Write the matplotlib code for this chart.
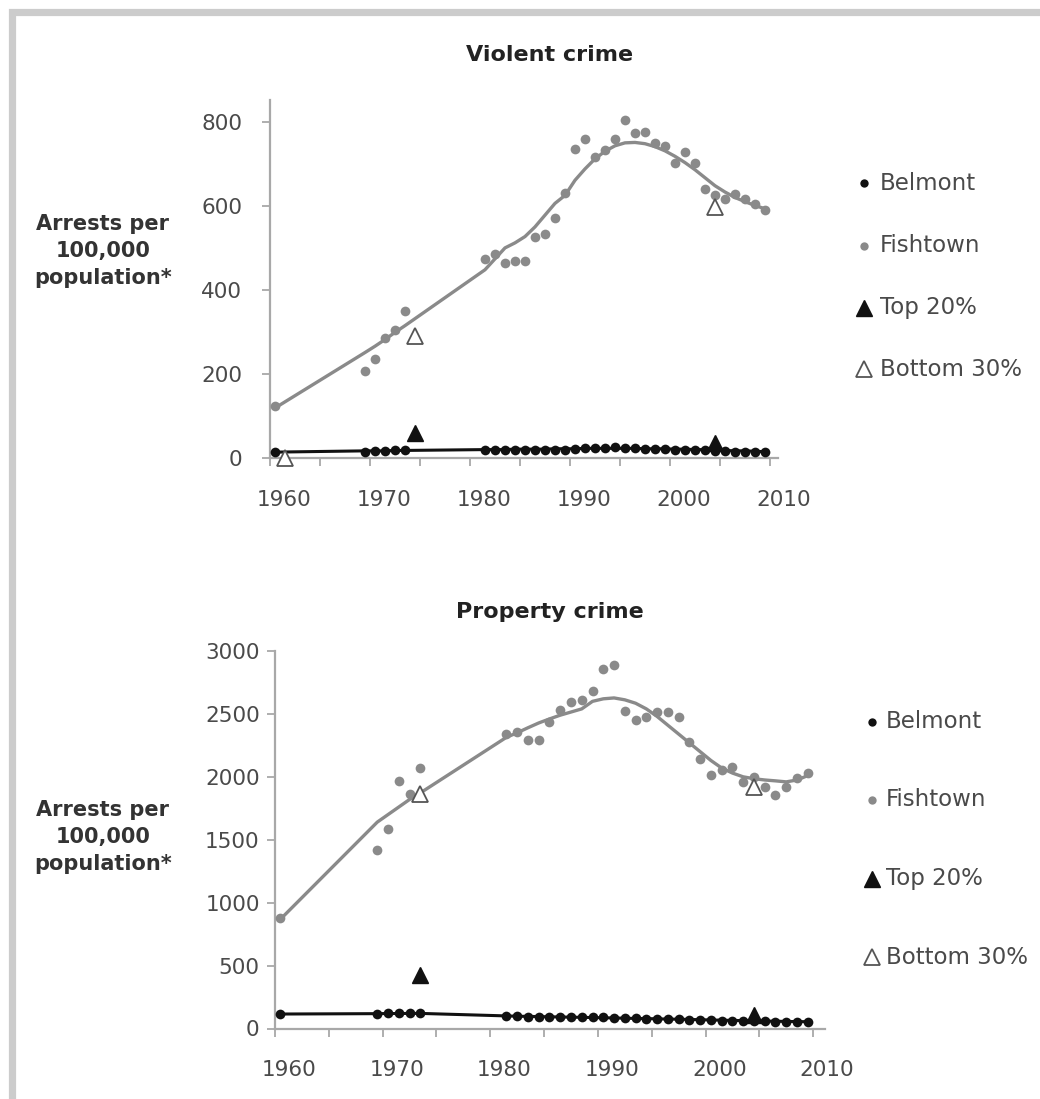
import matplotlib
matplotlib.use("Agg")
import matplotlib.pyplot as plt
import matplotlib.transforms as mtransforms
from matplotlib.lines import Line2D
from matplotlib.patches import Rectangle
import numpy as np

# ---- data ----
years = [1960, 1969, 1970, 1971, 1972, 1973] + list(range(1981, 2010))

fishtown_violent = [124, 208, 235, 286, 305, 349,
                    473, 486, 463, 470, 470, 527, 533, 571, 630, 735,
                    759, 716, 733, 759, 805, 773, 775, 749, 743, 703,
                    728, 702, 640, 626, 616, 628, 616, 604, 590]
fishtown_violent_fit = [119, 251, 266, 282, 299, 315,
                        448, 474, 500, 512, 527, 550, 578, 606, 625, 661,
                        688, 712, 730, 743, 750, 751, 748, 741, 731, 718,
                        703, 686, 667, 648, 633, 620, 610, 601, 593]
belmont_violent = [15, 15, 16, 17, 18, 19,
                   20, 20, 18, 18, 18, 19, 18, 19, 20, 22,
                   24, 24, 24, 25, 24, 23, 22, 22, 21, 20,
                   19, 18, 18, 17, 16, 15, 15, 14, 14]
belmont_violent_fit = [14, 17, 17, 17, 18, 18,
                       20, 20, 20, 21, 21, 21, 21, 22, 22, 22,
                       23, 23, 23, 23, 23, 23, 22, 22, 22, 21,
                       21, 20, 20, 19, 18, 17, 17, 16, 15]

fishtown_property = [881, 1421, 1582, 1963, 1865, 2071,
                     2338, 2358, 2296, 2296, 2433, 2532, 2592, 2613, 2680, 2857,
                     2891, 2521, 2452, 2479, 2513, 2513, 2479, 2275, 2143, 2018,
                     2055, 2076, 1957, 2002, 1917, 1852, 1917, 1992, 2029]
fishtown_property_fit = [868, 1640, 1700, 1760, 1820, 1872,
                         2314, 2350, 2390, 2428, 2460, 2490, 2515, 2540, 2600, 2620,
                         2627, 2612, 2585, 2540, 2480, 2410, 2340, 2270, 2200, 2130,
                         2070, 2030, 2000, 1985, 1975, 1968, 1960, 1975, 2010]
belmont_property = [113, 118, 122, 124, 124, 124,
                    98, 97, 93, 92, 92, 90, 90, 88, 90, 88,
                    85, 82, 80, 78, 78, 74, 72, 70, 66, 64,
                    62, 60, 60, 62, 58, 55, 55, 54, 53]
belmont_property_fit = [115, 118, 119, 119, 120, 120,
                        100, 98, 96, 95, 93, 92, 90, 89, 87, 85,
                        84, 82, 80, 79, 77, 75, 74, 72, 70, 68,
                        66, 64, 63, 61, 59, 58, 56, 55, 54]

# Top 20% / Bottom 30% survey points
violent_top20_years = [1974, 2004]
violent_top20 = [60, 35]
violent_bottom30_years = [1961, 1974, 2004]
violent_bottom30 = [0, 290, 598]

property_top20_years = [1973, 2004]
property_top20 = [423, 110]
property_bottom30_years = [1973, 2004]
property_bottom30 = [1860, 1917]

legend_labels = ["Belmont", "Fishtown", "Top 20%", "Bottom 30%"]

FISH = "#8a8a8a"
BEL = "#111111"
AXC = "#a8a8a8"
TXT = "#4a4a4a"
MID = 0.5  # data plotted at mid-year

fig = plt.figure(figsize=(10.40, 10.99), dpi=100)
W, H = 1040, 1099

# light gray frame
fig.add_artist(Rectangle((11.5 / W, -0.2), 1.5, 1 - 11.5 / H + 0.2,
                         transform=fig.transFigure, fill=False,
                         edgecolor="#cccccc", linewidth=5.2))


def panel(rect, xmax, ymax, yticks, fish, fish_fit, bel, bel_fit,
          t20y, t20, b30y, b30, title, title_y, label_y, leg_x, leg_tx, leg_y,
          ypad):
    ax = fig.add_axes(rect)
    x = np.array(years) + MID
    ax.plot(x, fish_fit, color=FISH, lw=2.4, zorder=2, solid_capstyle="round")
    ax.plot(x, fish, "o", color=FISH, ms=7, mec="none", zorder=3)
    ax.plot(x, bel_fit, color=BEL, lw=2.2, zorder=4)
    ax.plot(x, bel, "o", color=BEL, ms=7, mec="none", zorder=5, clip_on=False)
    ax.plot(np.array(t20y) + MID, t20, "^", color=BEL, ms=11, mec=BEL, zorder=6,
            clip_on=False)
    ax.plot(np.array(b30y) + MID, b30, "^", color="white", ms=11, mec="#555555",
            mew=1.3, zorder=6, clip_on=False)

    ax.set_xlim(1960, xmax)
    ax.set_ylim(0, ymax)
    ax.set_yticks(yticks)
    ax.set_xticks(range(1960, 2011, 5))
    ax.set_xticklabels([str(v) if v % 10 == 0 else "" for v in range(1960, 2011, 5)])
    for s in ["top", "right"]:
        ax.spines[s].set_visible(False)
    for s in ["left", "bottom"]:
        ax.spines[s].set_color(AXC)
        ax.spines[s].set_linewidth(1.6)
    ax.tick_params(axis="both", colors=AXC, width=1.3, length=6,
                   labelcolor=TXT, labelsize=15.5)
    ax.tick_params(axis="y", pad=ypad)
    ax.tick_params(axis="x", pad=17)
    # year labels sit a little right of their tick marks, as in the original
    off = mtransforms.ScaledTranslation(14 / 100, 0, fig.dpi_scale_trans)
    for lab in ax.get_xticklabels():
        lab.set_transform(lab.get_transform() + off)
    ax.patch.set_alpha(0)

    fig.text(550 / W, 1 - title_y / H, title, ha="center", va="center",
             fontsize=16, fontweight="bold", color="#222222")
    fig.text(103 / W, 1 - label_y / H, "Arrests per\n100,000\npopulation*",
             ha="center", va="center", fontsize=15, fontweight="bold",
             color="#333333", linespacing=1.45)

    styles = [dict(marker="o", color=BEL, ms=6, mec="none"),
              dict(marker="o", color=FISH, ms=6, mec="none"),
              dict(marker="^", color=BEL, ms=12, mec=BEL),
              dict(marker="^", color="white", ms=12, mec="#555555", mew=1.3)]
    for lbl, st, yy in zip(legend_labels, styles, leg_y):
        fig.add_artist(Line2D([leg_x / W], [1 - yy / H], linestyle="none",
                              transform=fig.transFigure, **st))
        fig.text(leg_tx / W, 1 - yy / H, lbl, ha="left", va="center",
                 fontsize=16.5, color=TXT)
    return ax


panel([270 / W, 1 - 458 / H, 508 / W, 358 / H], 2010.8, 852,
      [0, 200, 400, 600, 800],
      fishtown_violent, fishtown_violent_fit, belmont_violent, belmont_violent_fit,
      violent_top20_years, violent_top20, violent_bottom30_years, violent_bottom30,
      "Violent crime", 55, 251, 864, 880, [183, 246, 308, 369], 14)

panel([275 / W, 1 - 1028.5 / H, 550 / W, 377.5 / H], 2011.1, 3000,
      [0, 500, 1000, 1500, 2000, 2500, 3000],
      fishtown_property, fishtown_property_fit, belmont_property, belmont_property_fit,
      property_top20_years, property_top20, property_bottom30_years, property_bottom30,
      "Property crime", 612, 837, 872, 886, [722, 800, 879, 957], 5)

fig.savefig("out.png", dpi=100)
